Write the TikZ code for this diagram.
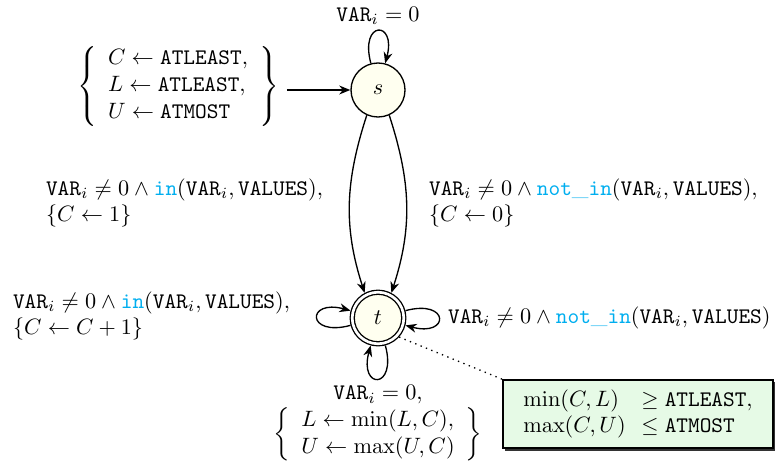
\documentclass[tikz,border=0pt]{standalone}
\usepackage{amsmath}
\usetikzlibrary{arrows.meta,shadows}
\definecolor{kwcyan}{RGB}{0,174,239}
\definecolor{notegreen}{RGB}{230,250,230}
\definecolor{statefill}{RGB}{255,255,240}
\newcommand{\kw}[1]{\textcolor{kwcyan}{\mathtt{#1}}}
\newcommand{\tv}[1]{\mathtt{#1}}
\begin{document}
\begin{tikzpicture}[x=0.45pt,y=0.45pt,
  >={Stealth[length=5pt,width=4pt]},
  semithick,
  state/.style={circle,draw,fill=statefill,minimum size=24.3pt,inner sep=0pt},
  accept/.style={circle,draw,fill=statefill,double,double distance=1.2pt,
                 minimum size=23.2pt,inner sep=0pt,outer sep=1.2pt},
  lbl/.style={align=left,anchor=west},
  note/.style={draw,fill=notegreen,minimum width=121.5pt,minimum height=28pt,
               drop shadow={opacity=1,fill=black!80,shadow xshift=1.1pt,shadow yshift=-1.1pt}}]
\useasboundingbox (0,0) rectangle (775,465);

% states
\node[state] (s) at (378,375) {$s$};
\node[accept] (t) at (378,147) {$t$};

% initial assignment
\node (init) at (178,379)
  {$\left\{\begin{array}{l}
     C \leftarrow \tv{ATLEAST},\\
     L \leftarrow \tv{ATLEAST},\\
     U \leftarrow \tv{ATMOST}
   \end{array}\right\}$};
\draw[->] (init.east |- s) -- (s);

% loop on s
\draw[->] (s) to[out=105,in=75,loop] (s);
\node (ls) at (378,449) {$\tv{VAR}_i = 0$};

% transitions from s to t
\draw[->] (s.-114) to[out=-108,in=108] (t.118);
\draw[->] (s.-66) to[out=-72,in=72] (t.62);
\node[lbl] (ll) at (38,262)
  {$\tv{VAR}_i \neq 0 \wedge \kw{in}(\tv{VAR}_i,\tv{VALUES}),$\\
   $\{C \leftarrow 1\}$};
\node[lbl] (lr) at (421,262)
  {$\tv{VAR}_i \neq 0 \wedge \kw{not\_in}(\tv{VAR}_i,\tv{VALUES}),$\\
   $\{C \leftarrow 0\}$};

% loops on t
\draw[->] (t) to[out=195,in=165,loop] (t);
\draw[->] (t) to[out=15,in=-15,loop] (t);
\draw[->] (t) to[out=-75,in=-105,loop] (t);
\node[lbl] (tl) at (5,149)
  {$\tv{VAR}_i \neq 0 \wedge \kw{in}(\tv{VAR}_i,\tv{VALUES}),$\\
   $\{C \leftarrow C+1\}$};
\node[lbl] (tr) at (440,147)
  {$\tv{VAR}_i \neq 0 \wedge \kw{not\_in}(\tv{VAR}_i,\tv{VALUES})$};
\node (tb) at (378,44)
  {$\begin{array}{c}
     \tv{VAR}_i = 0,\\
     \left\{\begin{array}{l}
       L \leftarrow \min(L,C),\\
       U \leftarrow \max(U,C)
     \end{array}\right\}
   \end{array}$};

% final condition
\node[note] (cond) at (638,51)
  {$\begin{array}{@{}l@{\hspace{7pt}}l@{}}
     \min(C,L) & \geq \tv{ATLEAST},\\
     \max(C,U) & \leq \tv{ATMOST}
   \end{array}$};
\draw[dotted] (t.-42) -- (cond.north west);
\end{tikzpicture}
\end{document}
